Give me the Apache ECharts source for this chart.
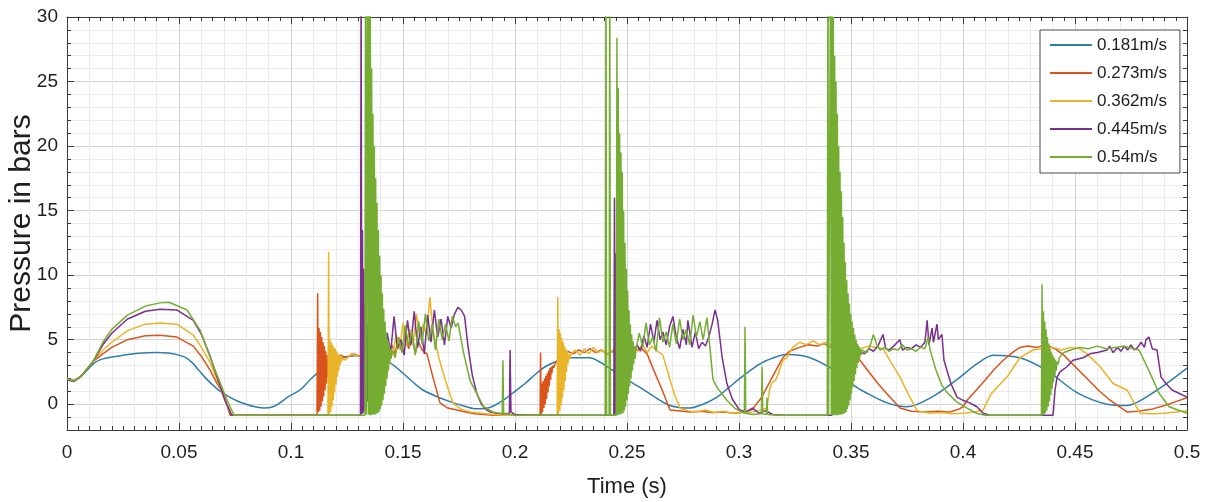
<!DOCTYPE html>
<html>
<head>
<meta charset="utf-8">
<title>Pressure in bars</title>
<script src="https://cdn.jsdelivr.net/npm/echarts@6/dist/echarts.min.js"></script>
<style>
  html, body { margin: 0; padding: 0; background: #ffffff; }
  #chart { width: 1212px; height: 502px; }
</style>
</head>
<body>
<div id="chart"></div>
<script>
// Impact pressure traces for five inflow velocities, [time (s), pressure (bar)]
const speeds = ['0.181m/s', '0.273m/s', '0.362m/s', '0.445m/s', '0.54m/s'];
const xTickLabels = ['0', '0.05', '0.1', '0.15', '0.2', '0.25', '0.3', '0.35', '0.4', '0.45', '0.5'];
const yTickValues = [0, 5, 10, 15, 20, 25, 30];
const yTickLabels = ['0', '5', '10', '15', '20', '25', '30'];

const v181 = [
  [0,2.0],[0.003,1.85],[0.0065,2.2],[0.0116,3.1],[0.015,3.45],[0.02,3.65],[0.025,3.8],[0.032,3.95],[0.04,4.0],[0.046,3.95],
  [0.05,3.8],[0.053,3.6],[0.056,3.2],[0.059,2.6],[0.062,2.0],[0.065,1.5],[0.068,1.05],[0.072,0.6],[0.076,0.25],[0.08,0.0],
  [0.084,-0.2],[0.088,-0.3],[0.092,-0.2],[0.095,0.1],[0.099,0.6],[0.104,1.1],[0.108,1.8],[0.113,2.6],[0.118,3.2],[0.123,3.6],
  [0.128,3.75],[0.133,3.7],[0.138,3.5],[0.1442,3.2],[0.15,2.4],[0.1545,1.7],[0.1589,1.1],[0.165,0.6],[0.171,0.2],[0.1765,-0.1],
  [0.1821,-0.35],[0.1888,-0.25],[0.1955,0.4],[0.2,1.0],[0.2045,1.6],[0.209,2.3],[0.2134,2.9],[0.219,3.35],[0.2246,3.6],[0.2335,3.6],
  [0.2385,3.2],[0.2438,2.6],[0.25,1.9],[0.2558,1.3],[0.262,0.6],[0.2692,-0.1],[0.2781,-0.3],[0.284,0.0],[0.2902,0.55],[0.2955,1.3],
  [0.3004,2.0],[0.3065,2.8],[0.3125,3.4],[0.3214,3.85],[0.3317,3.6],[0.3438,2.5],[0.35,1.6],[0.3571,0.85],[0.3661,0.1],[0.375,-0.2],
  [0.3866,0.6],[0.3987,2.1],[0.406,3.1],[0.4134,3.8],[0.4254,3.6],[0.4375,2.6],[0.4509,0.9],[0.4643,0.0],[0.4732,-0.1],[0.4866,1.1],
  [0.5,2.8]
];

const v273 = [
  [0,1.95],[0.003,1.8],[0.0065,2.2],[0.0116,3.3],[0.016,3.9],[0.02,4.4],[0.027,5.0],[0.035,5.3],[0.0415,5.35],[0.049,5.2],
  [0.0564,4.5],[0.06,3.7],[0.064,2.6],[0.067,1.6],[0.0698,0.85],[0.0728,-0.85],[0.1116,-0.85],
  [0.1119,8.6],[0.1122,-0.6],[0.1125,5.9],[0.1128,-0.5],[0.1131,5.6],[0.1134,-0.2],[0.1137,5.2],[0.114,0.2],[0.1143,4.8],
  [0.1146,0.6],[0.1149,4.5],[0.1152,1.1],[0.1155,4.1],[0.1158,1.6],[0.1161,3.8],[0.1164,2.1],[0.1167,3.5],[0.117,2.6],[0.1173,3.3],
  [0.1176,2.9],[0.118,3.2],[0.12,3.5],[0.122,3.8],
  [0.125,3.6],[0.128,3.9],[0.131,3.7],[0.134,4.0],[0.137,3.8],[0.14,4.2],[0.1425,3.6],[0.145,4.6],[0.1465,3.9],[0.148,5.2],
  [0.1495,4.1],[0.151,5.6],[0.1525,4.3],[0.154,5.0],[0.1555,4.0],[0.157,4.8],[0.1585,4.2],[0.1607,3.9],[0.1635,2.0],[0.1665,0.1],
  [0.17,-0.3],[0.174,-0.45],[0.178,-0.6],[0.182,-0.75],[0.186,-0.8],[0.19,-0.85],[0.2112,-0.85],
  [0.2114,4.0],[0.2117,-0.8],[0.212,1.6],[0.2123,-0.6],[0.2126,1.8],[0.2129,-0.3],[0.2132,2.0],[0.2135,0.0],[0.2138,2.2],[0.2141,0.4],
  [0.2144,2.4],[0.2147,0.9],[0.215,2.6],[0.2153,1.4],[0.2156,2.8],[0.2159,1.9],[0.2162,2.9],[0.2165,2.4],[0.2168,3.0],[0.2172,2.8],
  [0.218,3.2],[0.2195,3.5],
  [0.221,3.8],[0.2235,4.1],[0.226,3.9],[0.2285,4.2],[0.231,4.0],[0.2335,4.3],[0.236,4.0],[0.2385,4.2],[0.241,3.9],[0.2435,4.1],
  [0.246,3.8],[0.2485,4.2],[0.251,4.5],[0.2535,4.1],[0.256,4.4],[0.259,3.9],[0.262,2.6],[0.2655,1.2],[0.2692,-0.45],[0.273,-0.5],
  [0.278,-0.6],[0.283,-0.55],[0.288,-0.65],[0.293,-0.6],[0.298,-0.7],[0.303,-0.6],[0.306,-0.4],[0.31,0.5],[0.314,1.8],[0.317,2.8],
  [0.3196,3.6],[0.3225,4.1],[0.327,4.4],[0.331,4.6],[0.335,4.5],[0.338,4.7],[0.341,4.4],[0.345,4.2],[0.349,4.0],[0.351,3.9],
  [0.354,3.4],[0.358,2.5],[0.362,1.6],[0.366,0.8],[0.3719,-0.3],[0.377,-0.55],[0.383,-0.6],[0.389,-0.55],[0.394,-0.6],[0.398,-0.4],
  [0.4,-0.2],[0.4018,0.3],[0.406,1.1],[0.41,1.9],[0.414,2.7],[0.418,3.4],[0.422,4.0],[0.4254,4.4],[0.429,4.5],[0.433,4.4],
  [0.437,4.6],[0.441,4.3],[0.445,3.8],[0.449,3.1],[0.453,2.4],[0.457,1.7],[0.461,1.0],[0.465,0.4],[0.469,-0.1],[0.4732,-0.6],
  [0.478,-0.55],[0.484,-0.4],[0.49,-0.1],[0.495,0.2],[0.5,0.5]
];

const v362 = [
  [0,1.95],[0.003,1.8],[0.0065,2.2],[0.0116,3.3],[0.016,4.2],[0.02,4.8],[0.027,5.7],[0.035,6.2],[0.0415,6.3],[0.049,6.2],
  [0.0564,5.35],[0.06,4.4],[0.064,3.2],[0.067,1.9],[0.0705,0.3],[0.0735,-0.85],[0.1165,-0.85],
  [0.1168,11.8],[0.1171,-0.8],[0.1174,5.0],[0.1177,-0.6],[0.118,4.8],[0.1183,-0.2],[0.1186,4.6],[0.1189,0.3],[0.1192,4.4],
  [0.1195,0.9],[0.1198,4.3],[0.1201,1.5],[0.1204,4.1],[0.1207,2.1],[0.121,3.9],[0.1213,2.6],[0.1216,3.8],[0.1219,3.0],[0.1222,3.7],
  [0.1226,3.3],[0.123,3.6],[0.124,3.4],
  [0.127,3.9],[0.13,3.7],[0.133,4.0],[0.136,3.8],[0.139,4.1],[0.142,3.7],[0.144,4.4],[0.1455,3.8],[0.147,5.4],[0.1485,4.2],
  [0.15,6.3],[0.1515,4.5],[0.153,5.8],[0.1545,4.6],[0.156,7.0],[0.1575,5.2],[0.159,6.2],[0.1605,5.4],[0.162,8.3],[0.1634,5.7],
  [0.166,3.6],[0.169,1.8],[0.1723,0.1],[0.176,-0.4],[0.18,-0.6],[0.185,-0.7],[0.19,-0.8],[0.195,-0.85],[0.2188,-0.85],
  [0.2191,8.3],[0.2194,-0.8],[0.2197,5.8],[0.22,-0.5],[0.2203,5.5],[0.2206,-0.1],[0.2209,5.1],[0.2212,0.5],[0.2215,4.8],[0.2218,1.1],
  [0.2221,4.5],[0.2224,1.8],[0.2227,4.3],[0.223,2.5],[0.2233,4.1],[0.2236,3.1],[0.224,3.9],[0.2245,3.5],
  [0.225,3.9],[0.227,4.2],[0.229,3.8],[0.231,4.3],[0.233,3.9],[0.235,4.4],[0.237,4.0],[0.239,4.2],[0.241,3.8],[0.243,4.1],
  [0.245,4.3],[0.247,3.9],[0.249,4.4],[0.251,4.0],[0.253,4.5],[0.255,4.1],[0.257,4.6],[0.259,4.0],[0.261,4.5],[0.263,4.2],
  [0.266,3.8],[0.269,2.0],[0.2715,0.6],[0.2737,-0.3],[0.277,-0.5],[0.281,-0.6],[0.285,-0.45],[0.289,-0.65],[0.293,-0.55],[0.297,-0.7],
  [0.301,-0.6],[0.305,-0.65],[0.309,-0.5],[0.3125,-0.3],[0.3135,1.0],[0.3145,1.6],[0.3165,1.9],[0.318,2.6],[0.3196,3.4],[0.3214,3.6],
  [0.324,4.4],[0.327,4.8],[0.33,4.6],[0.333,4.9],[0.336,4.6],[0.339,4.8],[0.342,4.5],[0.346,4.4],[0.35,4.6],[0.354,4.3],
  [0.358,4.5],[0.3643,4.3],[0.368,3.2],[0.3719,2.1],[0.3755,0.8],[0.3795,-0.5],[0.385,-0.7],[0.39,-0.65],[0.395,-0.75],[0.4,-0.7],
  [0.405,-0.6],[0.409,-0.45],[0.4125,0.8],[0.4196,2.1],[0.4254,3.6],[0.4313,4.2],[0.435,4.3],[0.44,4.4],[0.444,4.2],[0.448,4.4],
  [0.452,4.3],[0.4554,3.9],[0.4612,2.9],[0.467,1.6],[0.4732,1.1],[0.479,-0.7],[0.485,-0.75],[0.49,-0.7],[0.495,-0.6],[0.5,-0.5]
];

const v445 = [
  [0,1.9],[0.003,1.75],[0.0065,2.2],[0.0116,3.3],[0.016,4.6],[0.02,5.5],[0.027,6.6],[0.035,7.2],[0.0415,7.35],[0.049,7.3],
  [0.0564,6.5],[0.06,5.4],[0.0635,3.9],[0.067,2.1],[0.0705,0.3],[0.0735,-0.85],[0.131,-0.85],
  [0.1313,34],[0.1316,-0.8],[0.1319,13.5],[0.1322,-0.7],[0.1325,10.5],[0.1328,-0.5],[0.1331,7.8],[0.1334,-0.2],[0.1337,7.0],
  [0.134,0.2],[0.1343,6.2],[0.1346,0.8],[0.1349,5.5],[0.1352,1.5],[0.1355,5.0],[0.1358,2.2],[0.1361,4.6],[0.1364,2.8],[0.1367,4.3],
  [0.137,3.3],[0.1375,4.1],[0.138,3.6],
  [0.1385,4.0],[0.14,4.6],[0.1415,3.6],[0.143,5.5],[0.1445,4.0],[0.146,6.8],[0.1475,4.3],[0.149,5.0],[0.1505,3.8],[0.152,6.5],
  [0.1535,4.6],[0.155,7.2],[0.1565,4.4],[0.158,6.0],[0.1595,3.9],[0.161,6.9],[0.1625,4.8],[0.164,7.3],[0.1655,5.2],[0.167,6.6],
  [0.1685,4.6],[0.17,6.8],[0.1715,5.9],[0.173,7.0],[0.1745,7.5],[0.176,7.3],[0.1775,6.8],[0.179,4.5],[0.181,2.2],[0.183,0.8],
  [0.185,0.0],[0.187,-0.4],[0.1888,-0.6],[0.192,-0.7],[0.195,-0.75],[0.1975,-0.7],[0.1978,4.2],[0.1982,-0.6],[0.2,-0.8],[0.205,-0.85],
  [0.2441,-0.85],
  [0.2444,16.0],[0.2447,-0.8],[0.245,11.7],[0.2453,-0.6],[0.2456,9.8],[0.2459,-0.3],[0.2462,8.0],[0.2465,0.2],[0.2468,6.5],
  [0.2471,0.9],[0.2474,5.4],[0.2477,1.7],[0.248,4.8],[0.2483,2.5],[0.2486,4.4],[0.249,3.2],[0.2495,4.2],
  [0.25,3.7],[0.2515,4.3],[0.253,3.9],[0.2545,4.6],[0.256,4.1],[0.2575,5.3],[0.259,4.4],[0.2605,6.2],[0.262,4.8],[0.2634,6.5],
  [0.2648,5.0],[0.266,5.6],[0.2675,4.6],[0.269,6.0],[0.2705,6.8],[0.272,5.2],[0.2735,4.3],[0.275,5.8],[0.2765,4.6],[0.2772,6.5],
  [0.279,4.4],[0.2805,5.6],[0.282,4.3],[0.2835,4.8],[0.285,4.5],[0.2865,5.2],[0.288,6.2],[0.2893,7.3],[0.2905,6.5],[0.2925,3.6],
  [0.2946,1.6],[0.297,0.4],[0.3,-0.4],[0.303,-0.6],[0.306,-0.3],[0.309,-0.7],[0.312,-0.5],[0.315,-0.8],[0.32,-0.85],[0.3415,-0.85],
  [0.3418,10.8],[0.3421,-0.8],[0.3424,8.6],[0.3427,-0.6],[0.343,7.5],[0.3433,-0.3],[0.3436,6.6],[0.3439,0.2],[0.3442,5.8],
  [0.3445,0.8],[0.3448,5.2],[0.3451,1.5],[0.3454,4.8],[0.3457,2.2],[0.346,4.5],[0.3463,2.9],[0.3466,4.3],[0.347,3.5],[0.3475,4.2],
  [0.348,3.8],
  [0.35,4.0],[0.352,3.8],[0.354,4.1],[0.356,3.9],[0.358,4.3],[0.36,4.1],[0.362,4.5],[0.3643,5.4],[0.3655,4.3],[0.367,4.2],
  [0.369,4.5],[0.3718,5.0],[0.373,4.2],[0.375,4.4],[0.377,4.3],[0.379,4.6],[0.381,4.4],[0.383,4.8],[0.384,6.5],[0.3848,4.6],
  [0.3862,5.9],[0.3868,4.8],[0.3884,6.2],[0.389,5.0],[0.3906,5.4],[0.3915,3.4],[0.3946,1.6],[0.3973,0.55],[0.4,0.3],[0.403,0.1],
  [0.4062,-0.2],[0.409,-0.7],[0.412,-0.85],[0.4402,-0.85],
  [0.4411,1.1],[0.442,2.1],[0.4433,2.5],[0.4464,2.9],[0.4491,3.4],[0.4536,3.6],[0.4567,3.9],[0.46,4.0],[0.4643,4.2],[0.4655,4.5],
  [0.467,4.0],[0.469,4.4],[0.4705,4.1],[0.472,4.5],[0.4735,4.2],[0.475,4.6],[0.4765,4.2],[0.478,4.4],[0.4795,4.8],[0.481,4.4],
  [0.4817,5.0],[0.483,5.2],[0.4845,4.3],[0.4866,4.2],[0.4884,2.1],[0.4906,1.6],[0.4933,1.1],[0.4964,0.85],[0.5,0.55]
];

const v540 = [
  [0,1.95],[0.003,1.8],[0.0065,2.2],[0.0116,3.3],[0.016,4.8],[0.02,5.8],[0.027,6.9],[0.035,7.6],[0.0415,7.85],[0.0455,7.9],
  [0.0536,7.3],[0.0595,5.7],[0.0655,2.9],[0.0715,0.3],[0.0745,-0.85],[0.133,-0.85],
  [0.1333,36],[0.1336,-0.8],[0.1339,-0.85],[0.1342,36],[0.1345,-0.8],[0.1348,34],[0.1351,-0.85],[0.1354,31],[0.1357,-0.85],[0.136,26],
  [0.1363,-0.8],[0.1366,22.5],[0.1369,-0.8],[0.1372,20],[0.1375,-0.8],[0.1378,17.5],[0.1381,-0.75],[0.1384,15.6],[0.1387,-0.7],[0.139,13.5],
  [0.1393,-0.6],[0.1396,11.5],[0.1399,-0.4],[0.1402,10.0],[0.1405,-0.1],[0.1408,8.6],[0.1411,0.3],[0.1414,7.4],[0.1417,0.8],[0.142,6.4],
  [0.1423,1.4],[0.1426,5.6],[0.1429,2.0],[0.1432,5.0],[0.1435,2.6],[0.1438,4.6],[0.1441,3.1],[0.1444,4.3],[0.1447,3.5],[0.145,4.2],
  [0.1465,3.6],[0.148,5.2],[0.1495,4.0],[0.151,6.1],[0.1525,4.5],[0.154,5.6],[0.1555,3.8],[0.157,6.4],[0.1585,4.7],[0.16,7.0],
  [0.1615,4.9],[0.163,6.2],[0.1645,4.2],[0.166,6.6],[0.1675,5.0],[0.169,6.2],[0.1705,4.9],[0.172,6.8],[0.1735,6.0],[0.1746,6.3],
  [0.177,4.0],[0.18,1.8],[0.183,0.8],[0.186,-0.2],[0.19,-0.6],[0.1943,-0.75],[0.1946,3.4],[0.1949,-0.7],[0.2,-0.85],[0.2403,-0.85],
  [0.2406,36],[0.2409,-0.85],[0.242,-0.85],[0.2423,36],[0.2426,-0.85],[0.2452,-0.85],[0.2455,28.4],[0.2458,-0.85],[0.2461,24.5],[0.2464,-0.8],
  [0.2467,21],[0.247,-0.8],[0.2473,19.5],[0.2476,-0.75],[0.2479,18],[0.2482,-0.7],[0.2485,15],[0.2488,-0.5],[0.2491,12.5],[0.2494,-0.2],
  [0.2497,10.5],[0.25,0.3],[0.2503,8.8],[0.2506,0.8],[0.2509,7.3],[0.2512,1.4],[0.2515,6.2],[0.2518,2.0],[0.2521,5.4],[0.2524,2.6],
  [0.2527,4.9],[0.253,3.1],[0.2533,4.5],[0.2536,3.5],[0.254,4.3],
  [0.2555,5.5],[0.257,4.4],[0.2585,6.3],[0.26,4.6],[0.2615,5.2],[0.263,4.1],[0.2645,6.7],[0.266,4.8],[0.2675,5.6],[0.269,4.4],
  [0.2705,6.2],[0.272,4.7],[0.2735,6.6],[0.275,5.0],[0.2765,5.8],[0.278,4.6],[0.2795,6.9],[0.281,5.2],[0.2825,6.4],[0.284,5.0],
  [0.2857,6.7],[0.287,4.4],[0.2884,1.9],[0.2902,1.3],[0.2946,0.3],[0.298,-0.3],[0.301,-0.6],[0.3024,-0.7],[0.3027,6.0],[0.303,-0.7],
  [0.306,-0.8],[0.31,-0.75],[0.3103,2.9],[0.3106,-0.75],[0.3122,-0.8],[0.3125,0.5],[0.3128,-0.8],[0.318,-0.85],[0.3394,-0.85],
  [0.3397,36],[0.34,-0.85],[0.3406,-0.85],[0.3409,36],[0.3412,-0.85],[0.3415,34],[0.3418,-0.85],[0.3421,30],[0.3424,-0.85],[0.3427,27],
  [0.343,-0.85],[0.3433,25],[0.3436,-0.85],[0.3439,22.5],[0.3442,-0.85],[0.3445,20],[0.3448,-0.8],[0.3451,18],[0.3454,-0.8],[0.3457,16.5],
  [0.346,-0.8],[0.3463,14.5],[0.3466,-0.75],[0.3469,12.5],[0.3472,-0.7],[0.3475,11.0],[0.3478,-0.6],[0.3481,9.6],[0.3484,-0.4],[0.3487,8.6],
  [0.349,-0.1],[0.3493,7.8],[0.3496,0.3],[0.3499,7.0],[0.3502,0.8],[0.3505,6.4],[0.3508,1.3],[0.3511,5.9],[0.3514,1.8],[0.3517,5.4],
  [0.352,2.3],[0.3523,5.0],[0.3526,2.8],[0.3529,4.7],[0.3532,3.2],[0.3535,4.5],[0.3538,3.5],[0.3541,4.3],[0.3545,3.8],[0.355,4.2],
  [0.357,4.0],[0.3585,4.5],[0.36,5.4],[0.3615,4.6],[0.363,4.2],[0.365,4.4],[0.367,4.1],[0.369,4.3],[0.371,4.2],[0.373,4.6],
  [0.375,4.2],[0.377,4.3],[0.379,4.1],[0.381,4.4],[0.383,4.3],[0.3845,5.2],[0.3853,4.2],[0.388,2.6],[0.3905,1.5],[0.3929,0.9],
  [0.397,0.2],[0.4018,-0.3],[0.406,-0.7],[0.41,-0.85],[0.435,-0.85],
  [0.4353,9.3],[0.4356,-0.85],[0.4359,7.2],[0.4362,-0.8],[0.4365,6.4],[0.4368,-0.7],[0.4371,5.8],[0.4374,-0.5],[0.4377,5.2],[0.438,-0.2],
  [0.4383,4.7],[0.4386,0.2],[0.4389,4.3],[0.4392,0.7],[0.4395,4.0],[0.4398,1.2],[0.4401,3.8],[0.4404,1.7],[0.4407,3.6],[0.441,2.2],
  [0.4413,3.4],[0.4416,2.6],[0.442,3.3],[0.4425,3.1],[0.443,3.6],[0.445,4.0],[0.448,4.2],[0.452,4.4],[0.456,4.3],[0.46,4.5],
  [0.464,4.3],[0.468,4.4],[0.472,4.5],[0.476,4.3],[0.4786,4.2],[0.483,2.6],[0.4875,0.85],[0.492,-0.2],[0.5,-0.7]
];

const traces = [v181, v273, v362, v445, v540];

// Line colours, in legend order
const palette = ['#2f7eaa', '#d9541c', '#e9b428', '#7a2f8c', '#74ad32'];
const fontFamily = "'Liberation Sans', Arial, Helvetica, sans-serif";
const axisColor = '#3a3a3a';
const textColor = '#1e1e1e';
const gridMajor = '#d3d3d3';
const gridMinor = '#ececec';

const chart = echarts.init(document.getElementById('chart'), null, { renderer: 'canvas' });

const boxTicks = {
  axisLine: { show: true, onZero: false, lineStyle: { color: axisColor, width: 1 } },
  axisTick: { show: true, inside: true, length: 7, lineStyle: { color: axisColor, width: 1 } }
};

chart.setOption({
  animation: false,
  backgroundColor: '#ffffff',
  grid: { left: 67, right: 25, top: 17, bottom: 72, containLabel: false, outerBoundsMode: 'none' },
  legend: {
    data: speeds,
    orient: 'vertical',
    left: 1040,
    top: 30,
    padding: [5, 13, 6, 10],
    itemGap: 8,
    itemWidth: 42,
    itemHeight: 2,
    icon: 'rect',
    backgroundColor: '#ffffff',
    borderColor: '#4a4a4a',
    borderWidth: 1,
    textStyle: { fontFamily, fontSize: 17, color: textColor, lineHeight: 20 }
  },
  xAxis: [
    {
      type: 'value', min: 0, max: 0.5, interval: 0.05, position: 'bottom',
      ...boxTicks,
      minorTick: { show: true, splitNumber: 10, length: 4, lineStyle: { color: axisColor } },
      axisLabel: {
        margin: 13, fontFamily, fontSize: 19, color: textColor,
        formatter: (v) => xTickLabels[Math.round(v / 0.05)]
      },
      splitLine: { show: false },
      name: 'Time (s)', nameLocation: 'middle', nameGap: 46, nameMoveOverlap: false,
      nameTextStyle: { fontFamily, fontSize: 22, color: textColor }
    },
    {
      type: 'value', min: 0, max: 0.5, interval: 0.05, position: 'top',
      ...boxTicks,
      minorTick: { show: true, splitNumber: 10, length: 4, lineStyle: { color: axisColor } },
      axisLabel: { show: false },
      splitLine: { show: false }
    },
    {
      // vertical grid lines every 0.01 s, stronger every 0.05 s
      type: 'value', min: 0, max: 0.5, interval: 0.01, position: 'bottom',
      axisLine: { show: false, onZero: false },
      axisTick: { show: false },
      axisLabel: { show: false },
      splitLine: { show: true, lineStyle: { width: 1, color: [gridMajor, gridMinor, gridMinor, gridMinor, gridMinor] } }
    }
  ],
  yAxis: [
    {
      type: 'value', min: -2, max: 30, position: 'left',
      ...boxTicks,
      axisTick: { show: true, inside: true, length: 7, customValues: yTickValues, lineStyle: { color: axisColor } },
      axisLabel: {
        customValues: yTickValues, margin: 9, fontFamily, fontSize: 19, color: textColor,
        formatter: (v) => { const i = yTickValues.indexOf(v); return i >= 0 ? yTickLabels[i] : ''; }
      },
      splitLine: { show: false },
      name: 'Pressure in bars', nameLocation: 'middle', nameGap: 30, nameMoveOverlap: false,
      nameTextStyle: { fontFamily, fontSize: 30, color: textColor }
    },
    {
      // unit ticks and horizontal grid lines, stronger at multiples of 5
      type: 'value', min: -2, max: 30, interval: 1, position: 'left',
      axisLine: { show: false, onZero: false },
      axisTick: { show: true, inside: true, length: 4, lineStyle: { color: axisColor } },
      axisLabel: { show: false },
      splitLine: { show: true, lineStyle: { width: 1, color: [gridMinor, gridMinor, gridMajor, gridMinor, gridMinor] } }
    },
    {
      type: 'value', min: -2, max: 30, position: 'right',
      ...boxTicks,
      axisTick: { show: true, inside: true, length: 7, customValues: yTickValues, lineStyle: { color: axisColor } },
      axisLabel: { show: false },
      splitLine: { show: false }
    },
    {
      type: 'value', min: -2, max: 30, interval: 1, position: 'right',
      axisLine: { show: false, onZero: false },
      axisTick: { show: true, inside: true, length: 4, lineStyle: { color: axisColor } },
      axisLabel: { show: false },
      splitLine: { show: false }
    }
  ],
  series: traces.map((data, i) => ({
    name: speeds[i],
    type: 'line',
    xAxisIndex: 0,
    yAxisIndex: 0,
    data,
    showSymbol: false,
    symbol: 'none',
    smooth: i === 0 ? 0.3 : false,
    clip: true,
    color: palette[i],
    lineStyle: { color: palette[i], width: 1.5 },
    emphasis: { disabled: true },
    z: 2 + i
  }))
});
</script>
</body>
</html>
